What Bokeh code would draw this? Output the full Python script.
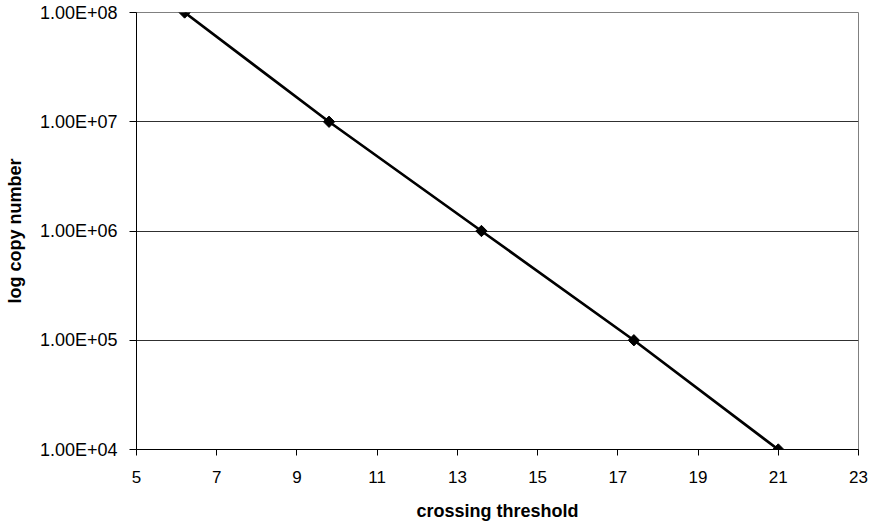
import math
from bokeh.plotting import figure
from bokeh.models import FixedTicker, Range1d
from bokeh.embed import file_html
from bokeh.resources import INLINE

# data
crossing_threshold = [6.2, 9.8, 13.6, 17.4, 21.0]
copy_number = [1e8, 1e7, 1e6, 1e5, 1e4]

x_ticks = [5, 7, 9, 11, 13, 15, 17, 19, 21, 23]
y_ticks = [10000, 100000, 1000000, 10000000, 100000000]
y_tick_labels = ["1.00E+04", "1.00E+05", "1.00E+06", "1.00E+07", "1.00E+08"]
grid_ticks = [100000, 1000000, 10000000]

FONT = "Liberation Sans"

p = figure(width=868, height=524, y_axis_type="log",
           x_range=Range1d(5, 23), y_range=Range1d(1e4, 1e8),
           output_backend="svg", toolbar_location=None,
           min_border_left=136, min_border_top=12, min_border_right=10,
           min_border_bottom=75)

p.background_fill_color = "white"
p.border_fill_color = "white"
p.outline_line_color = "#808080"
p.outline_line_width = 1

p.line(crossing_threshold, copy_number, line_color="black", line_width=2.7)
p.scatter(crossing_threshold, copy_number, marker="square", angle=math.pi / 4,
          size=8, fill_color="black", line_color="black")

# grids
p.xgrid.visible = False
p.ygrid.ticker = FixedTicker(ticks=grid_ticks)
p.ygrid.grid_line_color = "#303030"
p.ygrid.grid_line_width = 1

# x axis
xa = p.xaxis[0]
xa.ticker = FixedTicker(ticks=x_ticks)
xa.axis_label = "crossing threshold"
xa.axis_label_text_font = FONT
xa.axis_label_text_font_size = "18px"
xa.axis_label_text_font_style = "bold"
xa.axis_label_text_color = "black"
xa.axis_label_standoff = 15
xa.major_label_text_font = FONT
xa.major_label_text_font_size = "17px"
xa.major_label_text_color = "black"
xa.major_label_standoff = 15
xa.major_tick_in = 0
xa.major_tick_out = 6
xa.minor_tick_in = 0
xa.minor_tick_out = 0
xa.axis_line_color = "black"
xa.major_tick_line_color = "black"

# y axis
ya = p.yaxis[0]
ya.ticker = FixedTicker(ticks=y_ticks)
ya.major_label_overrides = {t: lab for t, lab in zip(y_ticks, y_tick_labels)}
ya.axis_label = "log copy number"
ya.axis_label_text_font = FONT
ya.axis_label_text_font_size = "18px"
ya.axis_label_text_font_style = "bold"
ya.axis_label_text_color = "black"
ya.axis_label_standoff = 12
ya.major_label_text_font = FONT
ya.major_label_text_font_size = "18px"
ya.major_label_text_color = "black"
ya.major_label_standoff = 12
ya.major_tick_in = 0
ya.major_tick_out = 7
ya.minor_tick_in = 0
ya.minor_tick_out = 0
ya.axis_line_color = "black"
ya.major_tick_line_color = "black"

open("out.html", "w").write(file_html(p, INLINE))
